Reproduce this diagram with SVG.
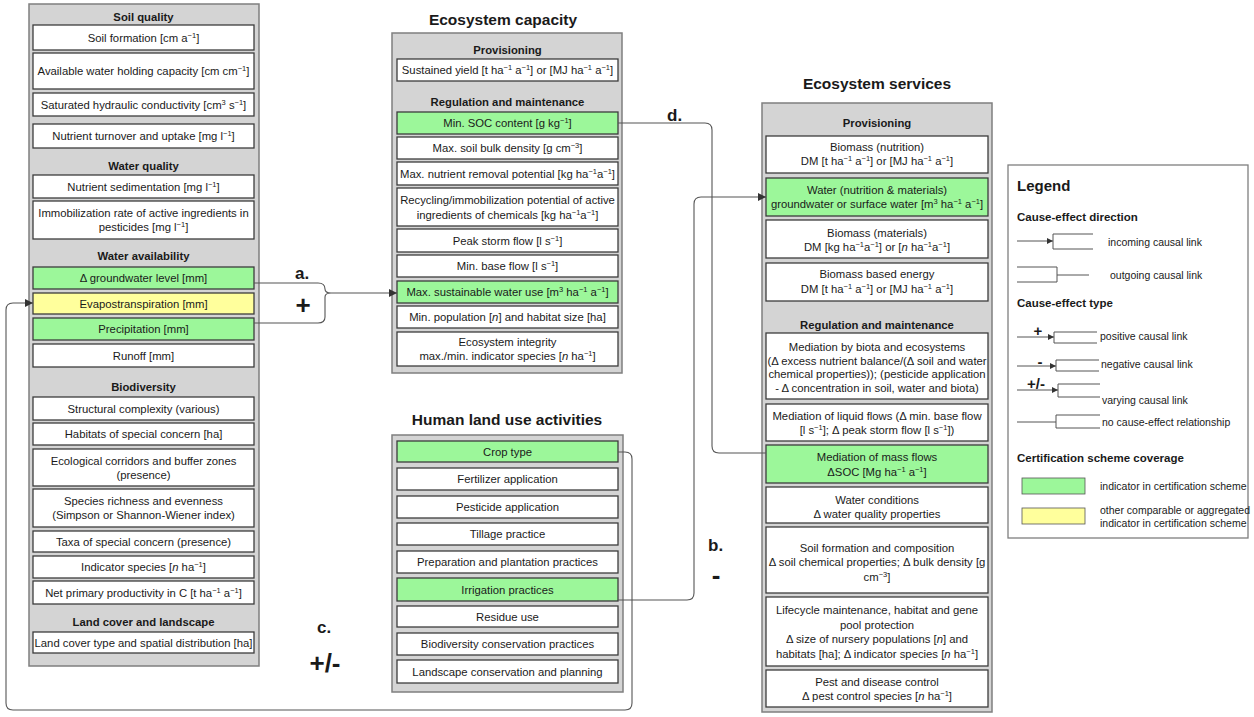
<svg xmlns="http://www.w3.org/2000/svg" width="1254" height="717" viewBox="0 0 1254 717">
<defs>
<marker id="arr" markerUnits="userSpaceOnUse" markerWidth="9" markerHeight="9" refX="8" refY="4" orient="auto"><path d="M0,0 L8,4 L0,8 z" fill="#333"/></marker>
<marker id="arrS" markerUnits="userSpaceOnUse" markerWidth="7" markerHeight="7" refX="6" refY="3" orient="auto"><path d="M0,0 L6,3 L0,6 z" fill="#333"/></marker>
</defs>
<style>
text{font-family:"Liberation Sans",Arial,sans-serif;fill:#1a1a1a}
.t{font-size:11.3px;text-anchor:middle}
.h{font-size:11.3px;font-weight:bold;text-anchor:middle}
.ti{font-size:15.5px;font-weight:bold;text-anchor:middle}
.u{font-size:7.5px;baseline-shift:4px}
.i{font-style:italic}
.panel{fill:#d4d4d4;stroke:#7f7f7f;stroke-width:1.5}
.box{fill:#fff;stroke:#3c3c3c;stroke-width:1.3}
.g{fill:#9cf79a}
.y{fill:#ffff9c}
.con{fill:none;stroke:#555;stroke-width:1.1}
.lab{font-size:17px;font-weight:bold}
.sign{font-size:26px;font-weight:bold;text-anchor:middle}
.lg{font-size:10.5px}
.lh{font-size:11.5px;font-weight:bold}
.lline{fill:none;stroke:#555;stroke-width:1}
.lbr{fill:none;stroke:#555;stroke-width:1}
</style>

<!-- state indicators -->
<g id="state-panel">
<rect class="panel" x="29" y="4" width="230" height="662"/>
<text class="h" x="143.5" y="21">Soil quality</text>
<text class="h" x="143.5" y="170">Water quality</text>
<text class="h" x="143.5" y="260">Water availability</text>
<text class="h" x="143.5" y="391">Biodiversity</text>
<text class="h" x="143.5" y="626">Land cover and landscape</text>
</g>
<g id="soil-formation"><rect class="box" x="33" y="25" width="221" height="25"/><text class="t" x="143.5" y="41.5">Soil formation [cm a<tspan class="u">−1</tspan>]</text></g>
<g id="water-holding"><rect class="box" x="33" y="53" width="221" height="36"/><text class="t" x="143.5" y="75">Available water holding capacity [cm cm<tspan class="u">−1</tspan>]</text></g>
<g id="hydraulic-conductivity"><rect class="box" x="33" y="93" width="221" height="23"/><text class="t" x="143.5" y="108.5">Saturated hydraulic conductivity [cm<tspan class="u">3</tspan> s<tspan class="u">−1</tspan>]</text></g>
<g id="nutrient-turnover"><rect class="box" x="33" y="124" width="221" height="24"/><text class="t" x="143.5" y="140">Nutrient turnover and uptake [mg l<tspan class="u">−1</tspan>]</text></g>
<g id="nutrient-sedimentation"><rect class="box" x="33" y="175" width="221" height="23"/><text class="t" x="143.5" y="190.5">Nutrient sedimentation [mg l<tspan class="u">−1</tspan>]</text></g>
<g id="immobilization-rate"><rect class="box" x="33" y="201" width="221" height="38"/><text class="t" x="143.5" y="216.5">Immobilization rate of active ingredients in</text><text class="t" x="143.5" y="230.5">pesticides [mg l<tspan class="u">−1</tspan>]</text></g>
<g id="groundwater-level"><rect class="box g" x="33" y="267" width="221" height="22"/><text class="t" x="143.5" y="282">Δ groundwater level [mm]</text></g>
<g id="evapotranspiration"><rect class="box y" x="33" y="293" width="221" height="21"/><text class="t" x="143.5" y="307.5">Evapostranspiration [mm]</text></g>
<g id="precipitation"><rect class="box g" x="33" y="318" width="221" height="22"/><text class="t" x="143.5" y="333">Precipitation [mm]</text></g>
<g id="runoff"><rect class="box" x="33" y="344" width="221" height="23"/><text class="t" x="143.5" y="359.5">Runoff [mm]</text></g>
<g id="structural-complexity"><rect class="box" x="33" y="397" width="221" height="23"/><text class="t" x="143.5" y="412.5">Structural complexity (various)</text></g>
<g id="habitats-concern"><rect class="box" x="33" y="423" width="221" height="22"/><text class="t" x="143.5" y="438">Habitats of special concern [ha]</text></g>
<g id="corridors"><rect class="box" x="33" y="449" width="221" height="37"/><text class="t" x="143.5" y="464.5">Ecological corridors and buffer zones</text><text class="t" x="143.5" y="478.5">(presence)</text></g>
<g id="species-richness"><rect class="box" x="33" y="489" width="221" height="38"/><text class="t" x="143.5" y="504.5">Species richness and evenness</text><text class="t" x="143.5" y="518.5">(Simpson or Shannon-Wiener index)</text></g>
<g id="taxa-concern"><rect class="box" x="33" y="531" width="221" height="21"/><text class="t" x="143.5" y="545.5">Taxa of special concern (presence)</text></g>
<g id="indicator-species"><rect class="box" x="33" y="556" width="221" height="22"/><text class="t" x="143.5" y="571">Indicator species [<tspan class="i">n</tspan> ha<tspan class="u">−1</tspan>]</text></g>
<g id="net-primary-productivity"><rect class="box" x="33" y="581" width="221" height="23"/><text class="t" x="143.5" y="596.5">Net primary productivity in C [t ha<tspan class="u">−1</tspan> a<tspan class="u">−1</tspan>]</text></g>
<g id="land-cover"><rect class="box" x="33" y="632" width="221" height="21"/><text class="t" x="143.5" y="646.5">Land cover type and spatial distribution [ha]</text></g>

<!-- ecosystem capacity -->
<g id="capacity-panel">
<text class="ti" x="503" y="25">Ecosystem capacity</text>
<rect class="panel" x="392" y="33" width="230" height="340"/>
<text class="h" x="507.5" y="54">Provisioning</text>
<text class="h" x="507.5" y="106">Regulation and maintenance</text>
</g>
<g id="sustained-yield"><rect class="box" x="397" y="59" width="221" height="22"/><text class="t" x="507.5" y="74">Sustained yield [t ha<tspan class="u">−1</tspan> a<tspan class="u">−1</tspan>] or [MJ ha<tspan class="u">−1</tspan> a<tspan class="u">−1</tspan>]</text></g>
<g id="min-soc"><rect class="box g" x="397" y="112" width="221" height="22"/><text class="t" x="507.5" y="127">Min. SOC content [g kg<tspan class="u">−1</tspan>]</text></g>
<g id="max-bulk-density"><rect class="box" x="397" y="137" width="221" height="22"/><text class="t" x="507.5" y="152">Max. soil bulk density [g cm<tspan class="u">−3</tspan>]</text></g>
<g id="max-nutrient-removal"><rect class="box" x="397" y="162" width="221" height="23"/><text class="t" x="507.5" y="177.5">Max. nutrient removal potential [kg ha<tspan class="u">−1</tspan>a<tspan class="u">−1</tspan>]</text></g>
<g id="recycling-potential"><rect class="box" x="397" y="188" width="221" height="38"/><text class="t" x="507.5" y="204">Recycling/immobilization potential of active</text><text class="t" x="507.5" y="218.5">ingredients of chemicals [kg ha<tspan class="u">−1</tspan>a<tspan class="u">−1</tspan>]</text></g>
<g id="peak-storm-flow"><rect class="box" x="397" y="229" width="221" height="23"/><text class="t" x="507.5" y="244.5">Peak storm flow [l s<tspan class="u">−1</tspan>]</text></g>
<g id="min-base-flow"><rect class="box" x="397" y="255" width="221" height="22"/><text class="t" x="507.5" y="270">Min. base flow [l s<tspan class="u">−1</tspan>]</text></g>
<g id="max-water-use"><rect class="box g" x="397" y="281" width="221" height="22"/><text class="t" x="507.5" y="296">Max. sustainable water use [m<tspan class="u">3</tspan> ha<tspan class="u">−1</tspan> a<tspan class="u">−1</tspan>]</text></g>
<g id="min-population"><rect class="box" x="397" y="306" width="221" height="22"/><text class="t" x="507.5" y="321">Min. population [<tspan class="i">n</tspan>] and habitat size [ha]</text></g>
<g id="ecosystem-integrity"><rect class="box" x="397" y="332" width="221" height="34"/><text class="t" x="507.5" y="345.5">Ecosystem integrity</text><text class="t" x="507.5" y="359.5">max./min. indicator species [<tspan class="i">n</tspan> ha<tspan class="u">−1</tspan>]</text></g>

<!-- human land use activities -->
<g id="land-use-panel">
<text class="ti" x="507" y="425">Human land use activities</text>
<rect class="panel" x="392" y="435" width="231" height="257"/>
</g>
<g id="crop-type"><rect class="box g" x="397" y="441" width="221" height="21"/><text class="t" x="507.5" y="455.5">Crop type</text></g>
<g id="fertilizer"><rect class="box" x="397" y="468" width="221" height="22"/><text class="t" x="507.5" y="483">Fertilizer application</text></g>
<g id="pesticide"><rect class="box" x="397" y="496" width="221" height="22"/><text class="t" x="507.5" y="511">Pesticide application</text></g>
<g id="tillage"><rect class="box" x="397" y="523" width="221" height="22"/><text class="t" x="507.5" y="538">Tillage practice</text></g>
<g id="preparation"><rect class="box" x="397" y="551" width="221" height="22"/><text class="t" x="507.5" y="566">Preparation and plantation practices</text></g>
<g id="irrigation"><rect class="box g" x="397" y="578" width="221" height="23"/><text class="t" x="507.5" y="593.5">Irrigation practices</text></g>
<g id="residue"><rect class="box" x="397" y="606" width="221" height="21"/><text class="t" x="507.5" y="620.5">Residue use</text></g>
<g id="biodiversity-conservation"><rect class="box" x="397" y="633" width="221" height="22"/><text class="t" x="507.5" y="648">Biodiversity conservation practices</text></g>
<g id="landscape-conservation"><rect class="box" x="397" y="660" width="221" height="23"/><text class="t" x="507.5" y="675.5">Landscape conservation and planning</text></g>

<!-- ecosystem services -->
<g id="services-panel">
<text class="ti" x="877" y="89">Ecosystem services</text>
<rect class="panel" x="762" y="103" width="230" height="609"/>
<text class="h" x="877" y="127">Provisioning</text>
<text class="h" x="877" y="329">Regulation and maintenance</text>
</g>
<g id="biomass-nutrition"><rect class="box" x="766" y="136" width="222" height="37"/><text class="t" x="877" y="151">Biomass (nutrition)</text><text class="t" x="877" y="164.5">DM [t ha<tspan class="u">−1</tspan> a<tspan class="u">−1</tspan>] or [MJ ha<tspan class="u">−1</tspan> a<tspan class="u">−1</tspan>]</text></g>
<g id="water-provision"><rect class="box g" x="766" y="178" width="222" height="38"/><text class="t" x="877" y="194">Water (nutrition &amp; materials)</text><text class="t" x="877" y="208">groundwater or surface water [m<tspan class="u">3</tspan> ha<tspan class="u">−1</tspan> a<tspan class="u">−1</tspan>]</text></g>
<g id="biomass-materials"><rect class="box" x="766" y="220" width="222" height="38"/><text class="t" x="877" y="237">Biomass (materials)</text><text class="t" x="877" y="251">DM [kg ha<tspan class="u">−1</tspan>a<tspan class="u">−1</tspan>] or [<tspan class="i">n</tspan> ha<tspan class="u">−1</tspan>a<tspan class="u">−1</tspan>]</text></g>
<g id="biomass-energy"><rect class="box" x="766" y="263" width="222" height="38"/><text class="t" x="877" y="278">Biomass based energy</text><text class="t" x="877" y="293">DM [t ha<tspan class="u">−1</tspan> a<tspan class="u">−1</tspan>] or [MJ ha<tspan class="u">−1</tspan> a<tspan class="u">−1</tspan>]</text></g>
<g id="mediation-biota"><rect class="box" x="766" y="333" width="222" height="66"/><text class="t" x="877" y="351">Mediation by biota and ecosystems</text><text class="t" x="877" y="364.5">(Δ excess nutrient balance/(Δ soil and water</text><text class="t" x="877" y="378">chemical properties)); (pesticide application</text><text class="t" x="877" y="391.5">- Δ concentration in soil, water and biota)</text></g>
<g id="liquid-flows"><rect class="box" x="766" y="404" width="222" height="37"/><text class="t" x="877" y="420">Mediation of liquid flows (Δ min. base flow</text><text class="t" x="877" y="433.5">[l s<tspan class="u">−1</tspan>]; Δ peak storm flow [l s<tspan class="u">−1</tspan>])</text></g>
<g id="mass-flows"><rect class="box g" x="766" y="445" width="222" height="38"/><text class="t" x="877" y="461">Mediation of mass flows</text><text class="t" x="877" y="475.5">ΔSOC [Mg ha<tspan class="u">−1</tspan> a<tspan class="u">−1</tspan>]</text></g>
<g id="water-conditions"><rect class="box" x="766" y="487" width="222" height="36"/><text class="t" x="877" y="504">Water conditions</text><text class="t" x="877" y="518">Δ water quality properties</text></g>
<g id="soil-composition"><rect class="box" x="766" y="527" width="222" height="66"/><text class="t" x="877" y="552">Soil formation and composition</text><text class="t" x="877" y="566">Δ soil chemical properties; Δ bulk density [g</text><text class="t" x="877" y="580.5">cm<tspan class="u">−3</tspan>]</text></g>
<g id="lifecycle"><rect class="box" x="766" y="597" width="222" height="69"/><text class="t" x="877" y="614">Lifecycle maintenance, habitat and gene</text><text class="t" x="877" y="628.5">pool protection</text><text class="t" x="877" y="643">Δ size of nursery populations [<tspan class="i">n</tspan>] and</text><text class="t" x="877" y="657.5">habitats [ha]; Δ indicator species [<tspan class="i">n</tspan> ha<tspan class="u">−1</tspan>]</text></g>
<g id="pest-control"><rect class="box" x="766" y="670" width="222" height="37"/><text class="t" x="877" y="686">Pest and disease control</text><text class="t" x="877" y="700">Δ pest control species [<tspan class="i">n</tspan> ha<tspan class="u">−1</tspan>]</text></g>

<!-- causal links -->
<g id="connectors">
<path class="con" d="M254,283 H318 Q325,283 325,289 Q325,293 331,293 Q325,293 325,297 V317 Q325,323 318,323 H254"/>
<path class="con" d="M331,293 H397" marker-end="url(#arr)"/>
<path class="con" d="M618,600 H687 Q694,600 694,593 V204 Q694,197 701,197 H766" marker-end="url(#arr)"/>
<path class="con" d="M618,452 H625 Q632,452 632,459 V703 Q632,710 625,710 H13 Q6,710 6,703 V310 Q6,303 13,303 H33" marker-end="url(#arr)"/>
<path class="con" d="M618,123 H705 Q712,123 712,130 V446 Q712,453 719,453 H766"/>
<text class="lab" x="295" y="279">a.</text>
<text class="sign" x="303" y="314">+</text>
<text class="lab" x="708" y="551">b.</text>
<text class="sign" x="716" y="584">-</text>
<text class="lab" x="317" y="633">c.</text>
<text class="sign" x="325" y="672">+/-</text>
<text class="lab" x="667" y="121">d.</text>
</g>

<!-- legend -->
<g id="legend">
<rect x="1008" y="165" width="240" height="373" fill="#fff" stroke="#7f7f7f" stroke-width="1.3"/>
<text x="1017" y="191" style="font-size:15px;font-weight:bold">Legend</text>
<text class="lh" x="1017" y="221">Cause-effect direction</text>
<path class="lline" d="M1017,241 H1053" marker-end="url(#arrS)"/>
<path class="lbr" d="M1093,234 H1053 V249 H1093"/>
<text class="lg" x="1108" y="246">incoming causal link</text>
<path class="lbr" d="M1017,267 H1057 V282 H1017"/>
<path class="lline" d="M1057,275 H1089"/>
<text class="lg" x="1110" y="279">outgoing  causal link</text>
<text class="lh" x="1017" y="307">Cause-effect type</text>
<text x="1038" y="336" style="font-size:15px;font-weight:bold;text-anchor:middle">+</text>
<path class="lline" d="M1017,337 H1054" marker-end="url(#arrS)"/>
<path class="lbr" d="M1097,332 H1054 V343 H1097"/>
<text class="lg" x="1100" y="340">positive causal link</text>
<text x="1040" y="367" style="font-size:15px;font-weight:bold;text-anchor:middle">-</text>
<path class="lline" d="M1017,366 H1056" marker-end="url(#arrS)"/>
<path class="lbr" d="M1099,360 H1056 V371 H1099"/>
<text class="lg" x="1101" y="368">negative causal link</text>
<text x="1036" y="389" style="font-size:15px;font-weight:bold;text-anchor:middle">+/-</text>
<path class="lline" d="M1017,390 H1058" marker-end="url(#arrS)"/>
<path class="lbr" d="M1100,384 H1058 V397 H1100"/>
<text class="lg" x="1102" y="404">varying  causal link</text>
<path class="lline" d="M1017,422 H1056"/>
<path class="lbr" d="M1100,415 H1056 V428 H1100"/>
<text class="lg" x="1102" y="426">no cause-effect relationship</text>
<text class="lh" x="1017" y="462">Certification scheme coverage</text>
<rect x="1022" y="478" width="63" height="16" fill="#9cf79a" stroke="#555" stroke-width="0.8"/>
<text class="lg" x="1100" y="490">indicator in certification scheme</text>
<rect x="1022" y="508" width="63" height="16" fill="#ffff9c" stroke="#555" stroke-width="0.8"/>
<text class="lg" x="1100" y="514">other comparable or aggregated</text>
<text class="lg" x="1100" y="527">indicator in certification scheme</text>
</g>
</svg>
